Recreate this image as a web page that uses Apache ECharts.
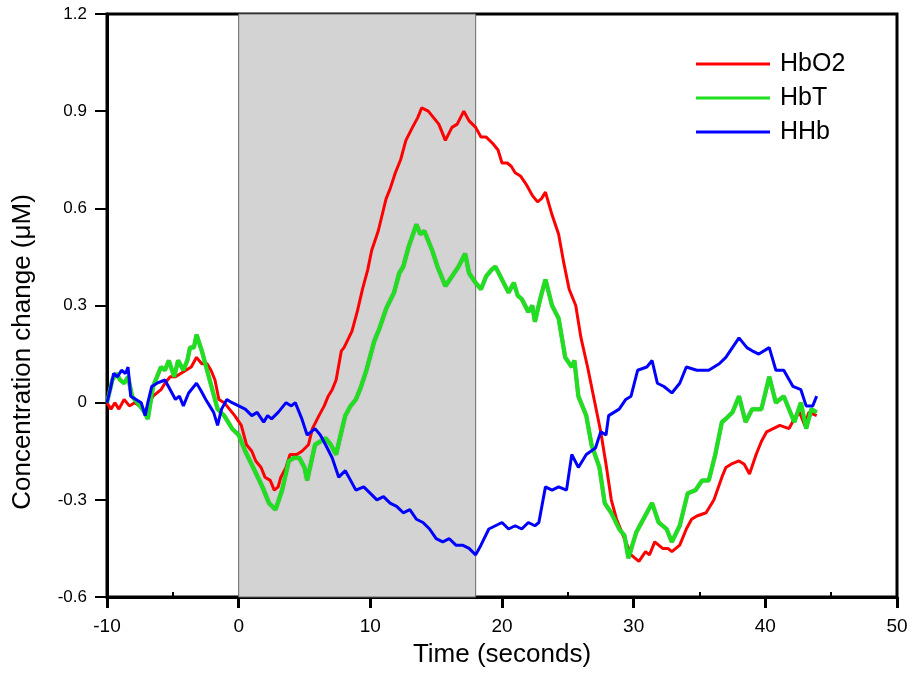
<!DOCTYPE html>
<html>
<head>
<meta charset="utf-8">
<script src="https://cdn.jsdelivr.net/npm/echarts@6/dist/echarts.min.js"></script>
<style>
html,body{margin:0;padding:0;background:#fff;}
#chart{width:912px;height:673px;}
</style>
</head>
<body>
<div id="chart"></div>
<script>
// ---- data ----
const seriesNames = ['HbO2', 'HbT', 'HHb'];
const xTicks = [-10, 0, 10, 20, 30, 40, 50];
const yTicks = [-0.6, -0.3, 0, 0.3, 0.6, 0.9, 1.2];
const stimulus = [0, 18];

const hbo2Time = [-10,-9.7,-9.4,-9.1,-8.7,-8.3,-7.9,-7.5,-7.1,-6.8,-6.5,-5.9,-5.6,-5.2,-4.8,-4.4,-4.0,-3.6,-3.2,-2.8,-2.4,-2.1,-1.8,-1.5,-1.1,-0.7,-0.3,0.2,0.6,1.0,1.3,1.7,2.0,2.4,2.7,3.0,3.2,3.6,3.9,4.4,4.8,5.3,5.6,6.1,6.5,6.8,7.1,7.4,7.8,8.0,8.6,9.0,9.4,9.8,10.1,10.6,11.2,11.5,11.9,12.3,12.7,13.2,13.6,13.9,14.4,14.8,15.2,15.7,16.2,16.6,17.1,17.5,18.0,18.4,18.8,19.3,19.7,20.0,20.4,20.7,21.0,21.4,21.9,22.3,22.7,23.0,23.3,23.8,24.3,24.7,25.1,25.6,26.0,26.5,27.0,27.5,27.9,28.3,28.7,29.1,29.5,29.8,30.1,30.4,30.9,31.2,31.6,32.2,32.6,32.9,33.5,34.0,34.4,34.8,35.5,36.1,36.7,37.0,37.4,38.0,38.4,38.8,39.3,39.7,40.1,40.6,41.1,41.8,42.2,42.6,43.0,43.3,43.9];
const hbo2Vals = [0.0,-0.02,0.0,-0.02,0.01,-0.01,0.0,-0.01,-0.03,0.0,0.02,0.04,0.06,0.08,0.08,0.09,0.1,0.11,0.14,0.12,0.12,0.1,0.07,0.01,0.0,-0.02,-0.04,-0.07,-0.13,-0.15,-0.18,-0.2,-0.23,-0.24,-0.27,-0.26,-0.23,-0.2,-0.16,-0.16,-0.15,-0.13,-0.08,-0.04,-0.01,0.02,0.04,0.07,0.16,0.17,0.22,0.28,0.35,0.41,0.47,0.53,0.63,0.66,0.71,0.75,0.81,0.85,0.88,0.91,0.9,0.88,0.86,0.81,0.85,0.86,0.9,0.87,0.85,0.82,0.82,0.8,0.78,0.74,0.74,0.73,0.71,0.7,0.67,0.64,0.62,0.63,0.65,0.58,0.52,0.43,0.35,0.3,0.2,0.11,0.01,-0.09,-0.19,-0.3,-0.36,-0.4,-0.44,-0.47,-0.48,-0.49,-0.46,-0.47,-0.43,-0.45,-0.45,-0.46,-0.44,-0.39,-0.36,-0.35,-0.34,-0.3,-0.23,-0.2,-0.19,-0.18,-0.19,-0.22,-0.16,-0.12,-0.09,-0.08,-0.07,-0.08,-0.05,-0.03,-0.07,-0.03,-0.04];

const hbtTime = [-10,-9.6,-9.3,-9.0,-8.7,-8.4,-8.1,-7.7,-7.3,-6.9,-6.5,-6.2,-5.9,-5.6,-5.3,-4.9,-4.6,-4.2,-3.9,-3.7,-3.4,-3.2,-2.8,-2.4,-2.0,-1.6,-1.1,-0.5,0,0.5,1.1,1.8,2.3,2.8,3.3,3.8,4.2,4.6,5.0,5.2,5.8,6.2,6.6,7.0,7.4,7.8,8.1,8.5,8.9,9.3,9.7,10.3,10.7,11.2,11.8,12.2,12.5,12.9,13.5,13.8,14.1,14.4,14.7,15.1,15.4,15.7,16.2,16.7,17.2,17.5,18.0,18.4,18.8,19.2,19.5,20.0,20.5,20.9,21.2,21.5,22.0,22.3,22.5,22.9,23.3,23.8,24.3,24.8,25.3,25.5,25.8,26.4,26.8,27.4,27.8,28.3,28.9,29.3,29.6,30.2,30.6,31.0,31.4,31.9,32.5,32.9,33.5,34.1,34.7,35.2,35.7,36.2,36.7,37.0,37.5,38.0,38.5,39.0,39.3,39.7,40.3,40.8,41.4,41.8,42.2,42.7,43.1,43.5,43.9];
const hbtVals = [0.0,0.07,0.09,0.07,0.06,0.08,0.02,0.0,-0.02,-0.05,0.05,0.08,0.11,0.1,0.13,0.08,0.13,0.1,0.13,0.17,0.17,0.21,0.16,0.1,0.04,-0.02,-0.04,-0.08,-0.1,-0.15,-0.2,-0.26,-0.31,-0.33,-0.27,-0.18,-0.17,-0.17,-0.2,-0.24,-0.13,-0.12,-0.11,-0.13,-0.16,-0.09,-0.04,-0.01,0.01,0.05,0.1,0.19,0.23,0.29,0.34,0.4,0.42,0.48,0.55,0.52,0.53,0.5,0.47,0.42,0.39,0.36,0.39,0.42,0.46,0.4,0.37,0.35,0.39,0.41,0.42,0.38,0.34,0.37,0.33,0.32,0.28,0.3,0.25,0.32,0.38,0.3,0.26,0.14,0.11,0.13,0.02,-0.04,-0.13,-0.2,-0.31,-0.34,-0.39,-0.41,-0.48,-0.4,-0.37,-0.34,-0.31,-0.37,-0.39,-0.43,-0.38,-0.28,-0.27,-0.24,-0.24,-0.16,-0.06,-0.05,-0.03,0.02,-0.06,-0.02,-0.02,-0.02,0.08,0.0,0.02,-0.02,-0.06,0.0,-0.08,-0.02,-0.03];

const hhbTime = [-10,-9.7,-9.5,-9.2,-8.9,-8.6,-8.4,-8.2,-7.8,-7.4,-7.1,-6.9,-6.6,-6.2,-5.6,-5.2,-4.8,-4.5,-4.2,-3.8,-3.2,-2.9,-2.5,-2.2,-1.9,-1.6,-1.3,-0.9,-0.5,0,0.5,1.0,1.4,1.9,2.2,2.5,3.0,3.6,4.0,4.3,4.8,5.2,5.8,6.2,6.6,7.1,7.6,8.1,8.5,8.9,9.5,10,10.5,11,11.5,12,12.5,13,13.5,14,14.5,15,15.5,16,16.5,17,17.5,18,18.4,19,19.5,20,20.5,21,21.5,22,22.5,22.8,23.3,23.8,24.3,24.9,25.3,25.8,26.4,27.1,27.5,27.9,28.1,28.9,29.4,29.8,30.3,31.0,31.4,31.8,32.3,32.9,33.5,34.0,34.8,35.7,36.5,37.0,37.5,38.0,38.6,39.0,39.5,40.3,40.8,41.4,42.1,42.7,43.1,43.6,43.9];
const hhbVals = [0.0,0.05,0.09,0.08,0.1,0.09,0.11,0.02,0.01,0.0,-0.04,0.0,0.05,0.06,0.07,0.04,0.01,0.02,-0.01,0.03,0.06,0.04,0.01,-0.01,-0.03,-0.07,-0.02,0.01,0.0,-0.01,-0.02,-0.04,-0.03,-0.06,-0.04,-0.05,-0.03,0.0,-0.01,0.0,-0.05,-0.1,-0.08,-0.1,-0.13,-0.17,-0.23,-0.21,-0.24,-0.27,-0.26,-0.28,-0.3,-0.29,-0.31,-0.32,-0.34,-0.33,-0.36,-0.37,-0.39,-0.42,-0.43,-0.42,-0.44,-0.44,-0.45,-0.47,-0.44,-0.39,-0.38,-0.37,-0.39,-0.38,-0.39,-0.37,-0.38,-0.37,-0.26,-0.27,-0.26,-0.27,-0.16,-0.2,-0.16,-0.14,-0.09,-0.1,-0.04,-0.02,0.01,0.02,0.1,0.11,0.13,0.06,0.05,0.03,0.06,0.11,0.1,0.1,0.12,0.14,0.17,0.2,0.17,0.16,0.15,0.17,0.1,0.1,0.05,0.04,-0.01,-0.01,0.02];

const colors = ['#ff0000', '#1ee01e', '#0000ff'];

function pairs(ts, vs) { return ts.map((t, i) => [t, vs[i]]); }

const chart = echarts.init(document.getElementById('chart'), null, {renderer: 'canvas'});
const font = 'Liberation Sans, Arial, sans-serif';

chart.setOption({
  animation: false,
  backgroundColor: '#ffffff',
  grid: {left: 107, right: 15, top: 14, bottom: 75, show: true, borderColor: '#000', borderWidth: 3, backgroundColor: 'transparent'},
  legend: {
    data: seriesNames,
    orient: 'vertical',
    left: 691,
    top: 46,
    icon: 'rect',
    itemWidth: 74,
    itemHeight: 3,
    itemGap: 8,
    textStyle: {fontFamily: font, fontSize: 25, color: '#000', lineHeight: 26, padding: [0, 0, 0, 5]}
  },
  xAxis: {
    type: 'value',
    min: xTicks[0], max: xTicks[xTicks.length - 1], interval: 10,
    name: 'Time (seconds)',
    nameLocation: 'middle',
    nameGap: 45,
    nameTextStyle: {fontFamily: font, fontSize: 26, color: '#000'},
    axisLine: {onZero: false, lineStyle: {color: '#000', width: 3}},
    axisTick: {show: true, inside: false, length: 11, lineStyle: {color: '#000', width: 3}},
    minorTick: {show: true, splitNumber: 2, length: -5, lineStyle: {color: '#000', width: 2}},
    axisLabel: {fontFamily: font, fontSize: 19, color: '#000', margin: 20},
    splitLine: {show: false}
  },
  yAxis: {
    type: 'value',
    min: yTicks[0], max: yTicks[yTicks.length - 1], interval: 0.3,
    axisLine: {onZero: false, lineStyle: {color: '#000', width: 3}},
    axisTick: {show: true, inside: false, length: 12, lineStyle: {color: '#000', width: 2}},
    axisLabel: {fontFamily: font, fontSize: 17, color: '#000', margin: 20,
      formatter: v => Math.abs(v) < 1e-9 ? '0' : v.toFixed(1)},
    splitLine: {show: false}
  },
  graphic: [{
    type: 'text',
    x: 23, y: 352,
    rotation: Math.PI / 2,
    style: {text: 'Concentration change (μM)', fontFamily: font, fontSize: 26, fill: '#000',
      textAlign: 'center', textVerticalAlign: 'middle'}
  }],
  series: [
    {
      name: seriesNames[0], type: 'line', showSymbol: false, symbol: 'none',
      data: pairs(hbo2Time, hbo2Vals),
      lineStyle: {color: colors[0], width: 3},
      itemStyle: {color: colors[0]},
      markArea: {
        silent: true,
        itemStyle: {color: '#d3d3d3', borderColor: '#666', borderWidth: 1},
        data: [[{xAxis: stimulus[0]}, {xAxis: stimulus[1]}]]
      },
      z: 3
    },
    {
      name: seriesNames[1], type: 'line', showSymbol: false, symbol: 'none',
      data: pairs(hbtTime, hbtVals),
      lineStyle: {color: colors[1], width: 4, shadowColor: 'rgba(60,60,60,0.6)', shadowBlur: 1},
      itemStyle: {color: colors[1]},
      z: 4
    },
    {
      name: seriesNames[2], type: 'line', showSymbol: false, symbol: 'none',
      data: pairs(hhbTime, hhbVals),
      lineStyle: {color: colors[2], width: 3},
      itemStyle: {color: colors[2]},
      z: 5
    }
  ]
});
</script>
</body>
</html>
